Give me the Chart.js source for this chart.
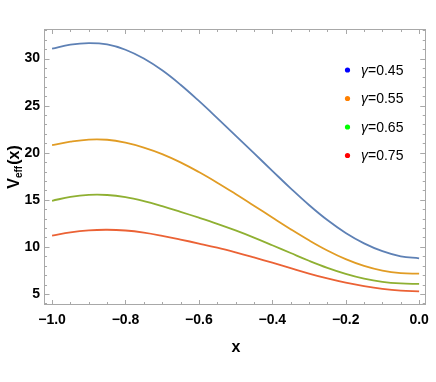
<!DOCTYPE html>
<html>
<head>
<meta charset="utf-8">
<script src="https://cdn.jsdelivr.net/npm/chart.js@4/dist/chart.umd.min.js"></script>
<style>
html,body{margin:0;padding:0;background:#fff;}
canvas{display:block;}
</style>
</head>
<body>
<canvas id="c" width="436" height="382"></canvas>
<script>
const xValues = [-1.00,-0.95,-0.90,-0.85,-0.80,-0.75,-0.70,-0.65,-0.60,-0.55,-0.50,-0.45,-0.40,-0.35,-0.30,-0.25,-0.20,-0.15,-0.10,-0.05,0.00];
const gamma045 = [31.06,31.48,31.64,31.50,30.94,30.00,28.75,27.22,25.50,23.68,21.82,19.95,18.08,16.22,14.45,12.85,11.48,10.38,9.55,9.00,8.79];
const gamma055 = [20.80,21.17,21.40,21.38,21.07,20.55,19.86,18.98,17.95,16.82,15.62,14.38,13.12,11.88,10.70,9.62,8.70,7.98,7.48,7.22,7.16];
const gamma065 = [14.90,15.31,15.52,15.51,15.28,14.86,14.32,13.72,13.10,12.45,11.75,10.99,10.18,9.35,8.53,7.78,7.14,6.63,6.29,6.12,6.07];
const gamma075 = [11.20,11.55,11.76,11.82,11.74,11.52,11.18,10.78,10.36,9.92,9.42,8.88,8.32,7.74,7.17,6.65,6.20,5.83,5.54,5.35,5.27];
const seriesLabels = ['γ=0.45','γ=0.55','γ=0.65','γ=0.75'];
const lineColors = ['#5E81B5','#E19C24','#8FB032','#EB6235'];
const legendDotColors = ['#0000FF','#FF8000','#00FF00','#FF0000'];
const xTickLabels = ['−1.0','−0.8','−0.6','−0.4','−0.2','0.0'];
const yTickLabels = ['5','10','15','20','25','30'];

const allSeries = [gamma045, gamma055, gamma065, gamma075];
const datasets = allSeries.map((vals, i) => ({
  label: seriesLabels[i],
  data: xValues.map((xv, j) => ({x: xv, y: vals[j]})),
  borderColor: lineColors[i],
  borderWidth: 1.8,
  pointRadius: 0,
  fill: false,
  tension: 0.4
}));

const XMIN = -1.022, XMAX = 0.018, YMIN = 3.83, YMAX = 33.14;
const FRAME = '#a8a8a8';

const framePlugin = {
  id: 'frame',
  beforeDatasetsDraw(chart) {
    const {ctx, chartArea: a, scales: {x, y}} = chart;
    ctx.save();
    ctx.strokeStyle = FRAME;
    ctx.lineWidth = 1;
    ctx.strokeRect(Math.round(a.left) + 0.5, Math.round(a.top) + 0.5,
      Math.round(a.right) - Math.round(a.left) - 1, Math.round(a.bottom) - Math.round(a.top) - 1);
    const seg = (x1, y1, x2, y2) => { ctx.beginPath(); ctx.moveTo(x1, y1); ctx.lineTo(x2, y2); ctx.stroke(); };
    for (let i = 0; i <= 20; i++) {
      const v = -1 + i * 0.05;
      const px = Math.round(x.getPixelForValue(v)) + 0.5;
      const L = (i % 4 === 0) ? 5 : 3;
      seg(px, a.bottom, px, a.bottom - L);
      seg(px, a.top, px, a.top + L);
    }
    for (let v = 4; v <= 33; v++) {
      const py = Math.round(y.getPixelForValue(v)) + 0.5;
      const L = (v % 5 === 0) ? 5.5 : 3;
      seg(a.left, py, a.left + L, py);
      seg(a.right, py, a.right - L, py);
    }
    ctx.restore();
  },
  afterDraw(chart) {
    const {ctx} = chart;
    ctx.save();
    ctx.fillStyle = '#000';
    ctx.font = 'bold 16px "Liberation Sans", Arial, sans-serif';
    ctx.textAlign = 'center';
    ctx.textBaseline = 'alphabetic';
    ctx.fillText('x', 236, 352);
    ctx.translate(19, 167);
    ctx.rotate(-Math.PI / 2);
    const big = 'bold 16px "Liberation Sans", Arial, sans-serif';
    const small = 'bold 10px "Liberation Sans", Arial, sans-serif';
    ctx.font = big; const wV = ctx.measureText('V').width;
    ctx.font = small; const wE = ctx.measureText('eff').width;
    ctx.font = big; const wP = ctx.measureText('(x)').width;
    let sx = -(wV + wE + 1 + wP) / 2;
    ctx.textAlign = 'left';
    ctx.font = big; ctx.fillText('V', sx, 0); sx += wV;
    ctx.font = small; ctx.fillText('eff', sx, 3); sx += wE + 1;
    ctx.font = big; ctx.fillText('(x)', sx, 0);
    ctx.restore();
    ctx.save();
    const ys = [70, 98.5, 127, 155.5];
    for (let i = 0; i < 4; i++) {
      ctx.fillStyle = legendDotColors[i];
      ctx.beginPath(); ctx.arc(347.5, ys[i], 2.6, 0, Math.PI * 2); ctx.fill();
      ctx.fillStyle = '#000';
      ctx.textBaseline = 'middle';
      ctx.textAlign = 'left';
      const lbl = seriesLabels[i];
      ctx.font = 'italic 14px "Liberation Sans", Arial, sans-serif';
      ctx.fillText(lbl[0], 361, ys[i] + 1);
      const w = ctx.measureText(lbl[0]).width;
      ctx.font = '14px "Liberation Sans", Arial, sans-serif';
      ctx.fillText(lbl.slice(1), 361 + w, ys[i] + 1);
    }
    ctx.restore();
  }
};

new Chart(document.getElementById('c'), {
  type: 'line',
  data: { datasets },
  options: {
    responsive: false,
    animation: false,
    layout: { padding: { left: 0, top: 29, right: 9, bottom: 0 } },
    plugins: { legend: { display: false }, tooltip: { enabled: false } },
    scales: {
      x: {
        type: 'linear', min: XMIN, max: XMAX,
        grid: { display: false, drawTicks: false },
        border: { display: false },
        afterFit: s => { s.height = 77; },
        ticks: {
          stepSize: 0.2, includeBounds: false, padding: 7, color: '#000',
          font: { family: '"Liberation Sans", Arial, sans-serif', size: 14, weight: 'bold' },
          maxRotation: 0, autoSkip: false,
          callback: v => {
            const idx = Math.round((v + 1) / 0.2);
            return (idx >= 0 && idx < xTickLabels.length && Math.abs(v - (-1 + idx * 0.2)) < 1e-6) ? xTickLabels[idx] : '';
          }
        }
      },
      y: {
        type: 'linear', min: YMIN, max: YMAX,
        grid: { display: false, drawTicks: false },
        border: { display: false },
        afterFit: s => { s.width = 44; },
        ticks: {
          stepSize: 5, includeBounds: false, padding: 4, color: '#000',
          font: { family: '"Liberation Sans", Arial, sans-serif', size: 14, weight: 'bold' },
          callback: v => {
            const idx = Math.round(v / 5) - 1;
            return (idx >= 0 && idx < yTickLabels.length && Math.abs(v - (idx + 1) * 5) < 1e-6) ? yTickLabels[idx] : '';
          }
        }
      }
    }
  },
  plugins: [framePlugin]
});
</script>
</body>
</html>
